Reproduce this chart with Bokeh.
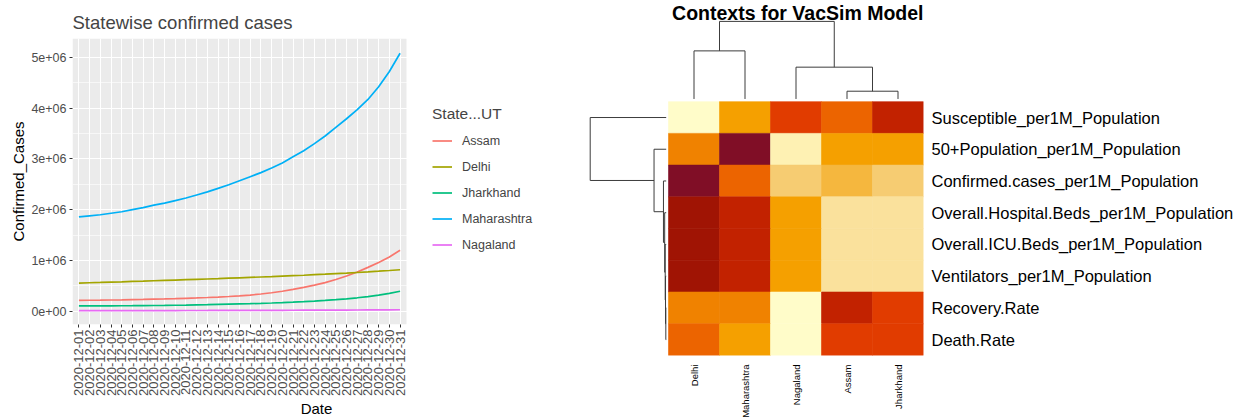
import math
from bokeh.plotting import figure
from bokeh.models import (FixedTicker, Legend, LegendItem, Range1d, Spacer)
from bokeh.layouts import row, column
from bokeh.embed import file_html
from bokeh.resources import INLINE
from bokeh.core.properties import value

FONT = "Liberation Sans"

# ---------------- left chart data ----------------
dates = ["2020-12-%02d" % d for d in range(1, 32)]
day_index = list(range(31))

assam = [215000, 217000, 219000, 222000, 225000, 229000, 233000, 238000, 243000, 249000,
         256000, 263000, 271000, 280000, 291000, 304000, 320000, 340000, 365000, 395000,
         430000, 470000, 515000, 565000, 625000, 695000, 775000, 865000, 960000, 1070000, 1200000]
delhi = [555000, 562000, 568000, 575000, 581000, 588000, 594000, 601000, 608000, 615000,
         622000, 629000, 636000, 643000, 651000, 659000, 667000, 675000, 683000, 692000,
         701000, 710000, 720000, 730000, 741000, 752000, 764000, 776000, 789000, 803000, 818000]
jharkhand = [105000, 106000, 107000, 108000, 109000, 110000, 112000, 114000, 116000, 119000,
             122000, 126000, 130000, 135000, 140000, 145000, 150000, 156000, 163000, 171000,
             180000, 190000, 201000, 214000, 229000, 246000, 266000, 290000, 318000, 352000, 395000]
maharashtra = [1860000, 1880000, 1900000, 1930000, 1960000, 2000000, 2040000, 2090000, 2130000, 2180000,
               2230000, 2290000, 2350000, 2420000, 2490000, 2570000, 2650000, 2730000, 2820000, 2920000,
               3040000, 3160000, 3300000, 3450000, 3620000, 3790000, 3970000, 4170000, 4420000, 4720000, 5080000]
nagaland = [12000, 12300, 12600, 12900, 13200, 13500, 13800, 14100, 14500, 14900,
            15300, 15700, 16100, 16600, 17100, 17600, 18100, 18700, 19300, 19900,
            20600, 21300, 22000, 22800, 23600, 24500, 25400, 26400, 27500, 28700, 30000]

state_names = ["Assam", "Delhi", "Jharkhand", "Maharashtra", "Nagaland"]
state_series = [assam, delhi, jharkhand, maharashtra, nagaland]
state_colors = ["#F8766D", "#A3A500", "#00BF7D", "#00B0F6", "#E76BF3"]

y_tick_values = [0, 1000000, 2000000, 3000000, 4000000, 5000000]
y_tick_labels = ["0e+00", "1e+06", "2e+06", "3e+06", "4e+06", "5e+06"]
y_minor_values = [500000, 1500000, 2500000, 3500000, 4500000]

# ---------------- right chart data ----------------
contexts = ["Susceptible_per1M_Population", "50+Population_per1M_Population",
            "Confirmed.cases_per1M_Population", "Overall.Hospital.Beds_per1M_Population",
            "Overall.ICU.Beds_per1M_Population", "Ventilators_per1M_Population",
            "Recovery.Rate", "Death.Rate"]
heat_states = ["Delhi", "Maharashtra", "Nagaland", "Assam", "Jharkhand"]
# colour bin (0 = lightest ... 11 = darkest) of every cell, rows top to bottom
heat_levels = [
    [0, 5, 8, 7, 9],
    [6, 11, 1, 5, 5],
    [11, 7, 3, 4, 3],
    [10, 9, 5, 2, 2],
    [10, 9, 5, 2, 2],
    [10, 9, 5, 2, 2],
    [6, 6, 0, 9, 8],
    [7, 5, 0, 8, 8],
]
heat_palette = ["#FFFCC9", "#FEF1B3", "#FAE19C", "#F6CC72", "#F5B73E", "#F5A000",
                "#F08200", "#EC6400", "#E13C00", "#C22200", "#A01404", "#800E26"]
# dendrogram merges: (child a, child b, relative height)
col_merges = [(3, 4, 0.10), (2, 5, 0.41), (0, 1, 0.62), (7, 6, 1.0)]
row_merges = [(6, 7, 0.005), (5, 8, 0.009), (4, 9, 0.013), (3, 10, 0.02),
              (2, 11, 0.036), (1, 12, 0.16), (0, 13, 1.0)]

# ================= left figure =================
W1, H1 = 568, 418
BL1, BR1, BT1, BB1 = 72, 8, 37, 94
FW1, FH1 = W1 - BL1 - BR1, H1 - BT1 - BB1
PANEL_X0, PANEL_X1 = -0.6, 30.6
PANEL_W = 334
px_day = PANEL_W / (PANEL_X1 - PANEL_X0)
X_END = PANEL_X0 + FW1 / px_day
Y_LO, Y_HI = -260000, 5370000

p1 = figure(width=W1, height=H1,
            x_range=Range1d(PANEL_X0, X_END), y_range=Range1d(Y_LO, Y_HI),
            min_border_left=BL1, min_border_right=BR1, min_border_top=BT1, min_border_bottom=BB1,
            output_backend="svg", toolbar_location=None,
            background_fill_color="white", border_fill_color="white",
            outline_line_color=None)
# grey ggplot panel
p1.quad(left=[PANEL_X0], right=[PANEL_X1], bottom=[Y_LO], top=[Y_HI],
        fill_color="#EBEBEB", line_color=None, level="image")
p1.title.text = "Statewise confirmed cases"
p1.title.text_font = FONT
p1.title.text_font_size = "18.5px"
p1.title.text_font_style = "normal"
p1.title.align = "left"
p1.title.standoff = 11

renderers = []
for name, ser, col in zip(state_names, state_series, state_colors):
    r = p1.line(day_index, ser, line_color=col, line_width=1.7)
    renderers.append(r)

p1.xaxis.ticker = FixedTicker(ticks=day_index)
p1.xaxis.major_label_overrides = {i: d for i, d in zip(day_index, dates)}
p1.xaxis.major_label_orientation = math.pi / 2
p1.yaxis.ticker = FixedTicker(ticks=y_tick_values, minor_ticks=y_minor_values)
p1.yaxis.major_label_overrides = {v: l for v, l in zip(y_tick_values, y_tick_labels)}
for ax in (p1.xaxis[0], p1.yaxis[0]):
    ax.axis_line_color = None
    ax.major_tick_line_color = "#333333"
    ax.major_tick_out = 3
    ax.major_tick_in = 0
    ax.minor_tick_line_color = None
    ax.major_label_text_font = FONT
    ax.major_label_text_color = "#4D4D4D"
    ax.major_label_standoff = 2
    ax.axis_label_text_font = FONT
    ax.axis_label_text_font_size = "15px"
    ax.axis_label_text_font_style = "normal"
    ax.axis_label_text_color = "black"
    ax.axis_label_standoff = 1
p1.xaxis.major_label_text_font_size = "13px"
p1.yaxis.major_label_text_font_size = "12.5px"
p1.xaxis.axis_label = "Date"
p1.yaxis.axis_label = "Confirmed_Cases"
p1.xgrid.grid_line_color = "white"
p1.xgrid.grid_line_width = 1.1
p1.ygrid.grid_line_color = "white"
p1.ygrid.grid_line_width = 1.1
p1.ygrid.minor_grid_line_color = "white"
p1.ygrid.minor_grid_line_width = 0.6

legend = Legend(items=[LegendItem(label=n, renderers=[r]) for n, r in zip(state_names, renderers)],
                title="State...UT", location=(360, 67))
legend.title_text_font = FONT
legend.title_text_font_size = "15.5px"
legend.title_text_font_style = "normal"
legend.label_text_font = FONT
legend.label_text_font_size = "12.5px"
legend.glyph_width = 20
legend.glyph_height = 25
legend.label_height = 25
legend.spacing = 1
legend.label_standoff = 10
legend.padding = 0
legend.margin = 0
legend.border_line_color = None
legend.background_fill_alpha = 0
p1.add_layout(legend)

# ================= right figure =================
W2, H2 = 677, 420
BL2, BR2, BT2, BB2 = 12, 322, 0, 63
FW, FH = W2 - BL2 - BR2, H2 - BT2 - BB2
n_rows = len(contexts)
n_cols = len(heat_states)
px_x = 51.0
px_y = 31.91
X1 = float(n_cols)
X0 = X1 - FW / px_x
Y0 = 0.0
Y1 = FH / px_y

p2 = figure(width=W2, height=H2,
            x_range=Range1d(X0, X1), y_range=Range1d(Y0, Y1),
            min_border_left=BL2, min_border_right=BR2, min_border_top=BT2, min_border_bottom=BB2,
            y_axis_location="right", output_backend="svg", toolbar_location=None,
            outline_line_color=None, background_fill_color="white", border_fill_color="white")
p2.grid.visible = False

hx, hy, hc = [], [], []
for ri, rowvals in enumerate(heat_levels):
    for ci, lv in enumerate(rowvals):
        hx.append(ci + 0.5)
        hy.append(n_rows - ri - 0.5)
        hc.append(heat_palette[lv])
p2.rect(x=hx, y=hy, width=1, height=1, fill_color=hc, line_color=hc, line_width=0.6)


def dendro(n, merges):
    pos = {i: float(i) for i in range(n)}
    hgt = {i: 0.0 for i in range(n)}
    segs = []
    for k, (a, b, h) in enumerate(merges):
        segs.append((pos[a], hgt[a], pos[a], h))
        segs.append((pos[b], hgt[b], pos[b], h))
        segs.append((pos[a], h, pos[b], h))
        pos[n + k] = (pos[a] + pos[b]) / 2.0
        hgt[n + k] = h
    return segs


# column dendrogram (above the heatmap)
col_leaf_y = n_rows + 2.7 / px_y
col_scale = 78.0 / px_y
cs = dendro(n_cols, col_merges)
p2.segment(x0=[s[0] + 0.5 for s in cs], y0=[col_leaf_y + s[1] * col_scale for s in cs],
           x1=[s[2] + 0.5 for s in cs], y1=[col_leaf_y + s[3] * col_scale for s in cs],
           line_color="#3C3C3C", line_width=1)
# row dendrogram (left of the heatmap)
row_leaf_x = -2.3 / px_x
row_scale = 76.0 / px_x
rs = dendro(n_rows, row_merges)
p2.segment(x0=[row_leaf_x - s[1] * row_scale for s in rs], y0=[n_rows - 0.5 - s[0] for s in rs],
           x1=[row_leaf_x - s[3] * row_scale for s in rs], y1=[n_rows - 0.5 - s[2] for s in rs],
           line_color="#3C3C3C", line_width=1)

# title
p2.text(x=[X1], y=[Y1 - 12.5 / px_y], text=["Contexts for VacSim Model"],
        text_align="right", text_baseline="alphabetic",
        text_font=value(FONT), text_font_style="bold", text_font_size="19.5px", text_color="black")

col_ticks = [i + 0.5 for i in range(n_cols)]
row_ticks = [n_rows - i - 0.5 for i in range(n_rows)]
p2.xaxis.ticker = FixedTicker(ticks=col_ticks)
p2.xaxis.major_label_overrides = {t: s for t, s in zip(col_ticks, heat_states)}
p2.xaxis.major_label_orientation = math.pi / 2
p2.xaxis.major_label_text_font_size = "9.5px"
p2.xaxis.major_label_standoff = 9
p2.yaxis.ticker = FixedTicker(ticks=row_ticks)
p2.yaxis.major_label_overrides = {t: s for t, s in zip(row_ticks, contexts)}
p2.yaxis.major_label_text_font_size = "16.5px"
p2.yaxis.major_label_standoff = 8
for ax in (p2.xaxis[0], p2.yaxis[0]):
    ax.axis_line_color = None
    ax.major_tick_line_color = None
    ax.minor_tick_line_color = None
    ax.major_tick_out = 0
    ax.major_tick_in = 0
    ax.major_label_text_font = FONT
    ax.major_label_text_color = "black"

layout = row(column(Spacer(width=W1, height=1), p1), p2)
open("out.html", "w").write(file_html(layout, INLINE))
